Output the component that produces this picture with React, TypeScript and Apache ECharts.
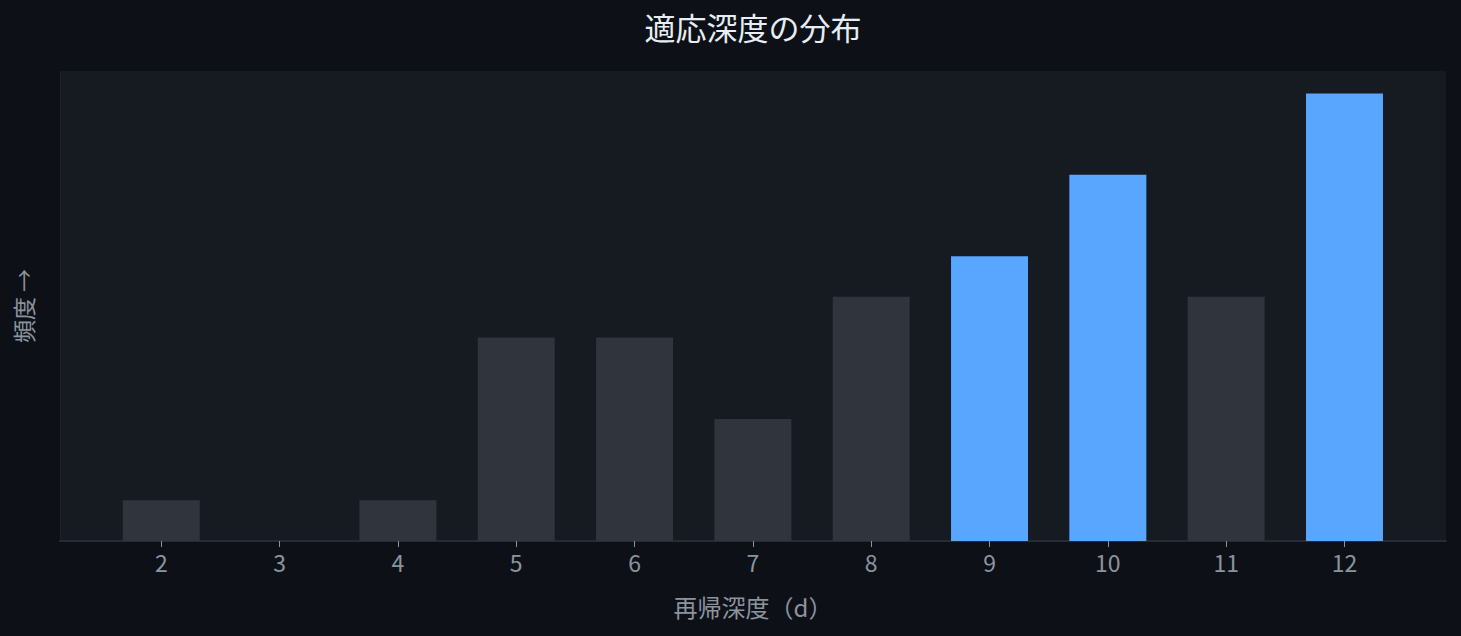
import React, { useEffect, useRef } from "react";
import * as echarts from "echarts";

const categories = [2, 3, 4, 5, 6, 7, 8, 9, 10, 11, 12];
const frequencies = [1, 0, 1, 5, 5, 3, 6, 7, 9, 6, 11];
const highlighted = [9, 10, 12];
const titleText = "適応深度の分布";
const xName = "再帰深度（d）";
const yName = "頻度 →";

const FONT = "'Noto Sans CJK JP', 'Noto Sans', sans-serif";

export default function App() {
  const ref = useRef<HTMLDivElement>(null);
  useEffect(() => {
    document.body.style.margin = "0";
    document.body.style.background = "#0d1117";
    if (!ref.current) return;
    const chart = echarts.init(ref.current, undefined, { renderer: "svg" });
    const data = categories.map((c, i) => ({
      value: [c, frequencies[i]],
      itemStyle: { color: highlighted.includes(c) ? "#58a6ff" : "#30343c" },
    }));
    chart.setOption({
      animation: false,
      backgroundColor: "#0d1117",
      textStyle: { fontFamily: FONT },
      title: {
        text: titleText,
        left: 748,
        textAlign: "center",
        top: 6,
        textStyle: { color: "#e6edf3", fontSize: 31, fontWeight: "normal", fontFamily: FONT },
      },
      grid: {
        left: 60,
        right: 15,
        top: 71,
        bottom: 95,
        containLabel: false,
        outerBoundsMode: "none",
        show: true,
        backgroundColor: "#161b22",
        borderWidth: 0,
      },
      xAxis: {
        type: "value",
        min: 1.144,
        max: 12.858,
        name: xName,
        nameLocation: "middle",
        nameGap: 53,
        nameTextStyle: { color: "#8b949e", fontSize: 24, fontFamily: FONT },
        splitLine: { show: false },
        axisLine: { show: true, lineStyle: { color: "#262c35", width: 2 } },
        axisTick: {
          show: true,
          length: 6,
          customValues: categories,
          lineStyle: { color: "#8b949e", width: 1 },
        },
        axisLabel: {
          customValues: categories,
          color: "#8b949e",
          fontSize: 23,
          margin: 9,
          fontFamily: FONT,
        },
      },
      yAxis: {
        type: "value",
        min: 0,
        max: 11.55,
        name: yName,
        nameLocation: "middle",
        nameGap: 26,
        nameRotate: 90,
        nameTextStyle: { color: "#8b949e", fontSize: 23, fontFamily: FONT },
        splitLine: { show: false },
        axisLabel: { show: false },
        axisTick: { show: false },
        axisLine: { show: true, lineStyle: { color: "#1c2129", width: 1 } },
      },
      series: [
        {
          type: "bar",
          data,
          barWidth: 77,
          itemStyle: { borderRadius: 0 },
        },
      ],
    });
    return () => chart.dispose();
  }, []);
  return <div ref={ref} style={{ width: 1461, height: 636 }} />;
}
